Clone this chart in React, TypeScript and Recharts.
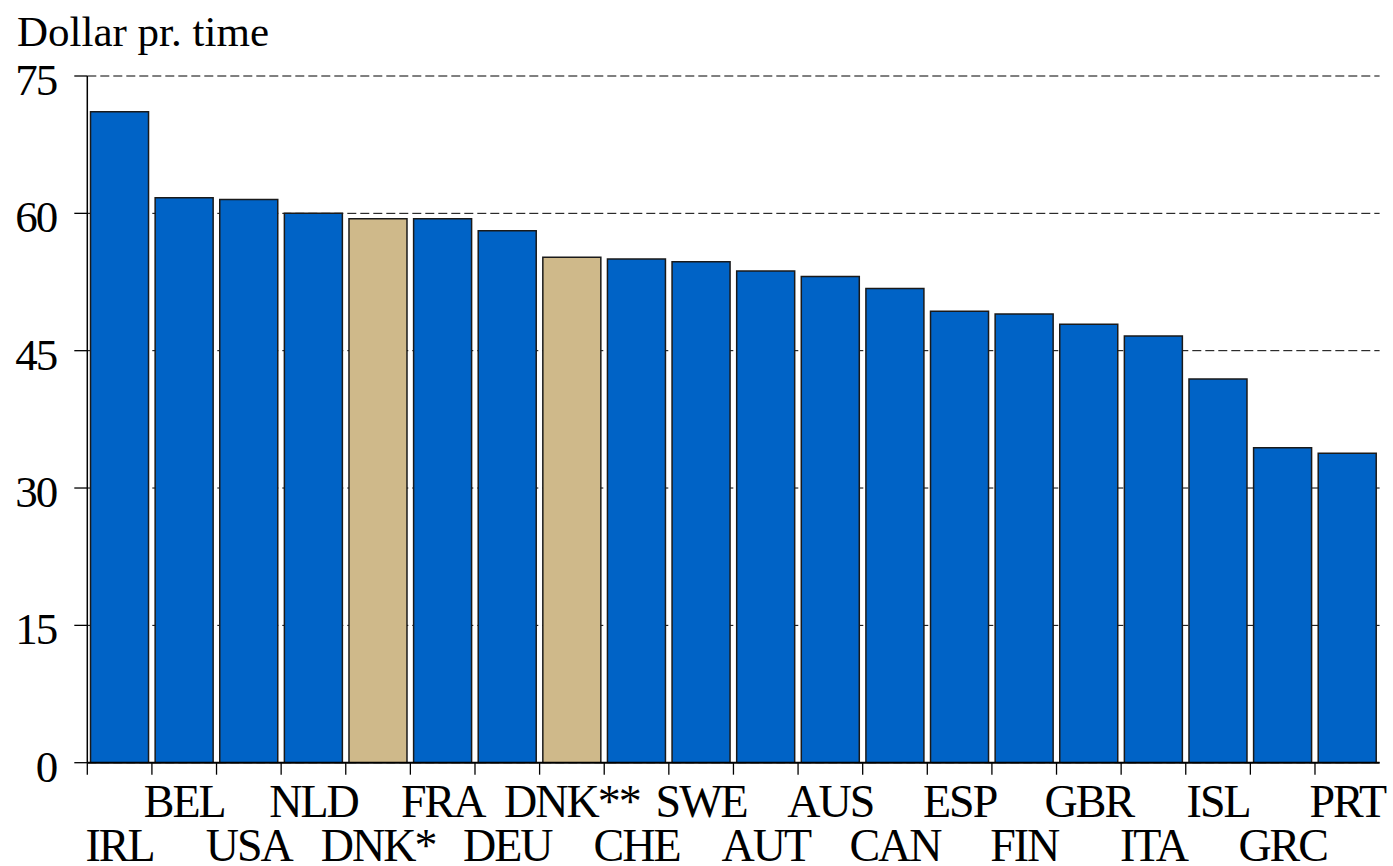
// import libraries
import React from 'react';
import { BarChart, Bar, XAxis, YAxis, CartesianGrid, Cell } from 'recharts';

const countries = [
  'IRL', 'BEL', 'USA', 'NLD', 'DNK*', 'FRA', 'DEU', 'DNK**', 'CHE', 'SWE',
  'AUT', 'AUS', 'CAN', 'ESP', 'FIN', 'GBR', 'ITA', 'ISL', 'GRC', 'PRT',
];
const dollarsPerHour = [
  71.1, 61.7, 61.5, 60.0, 59.4, 59.4, 58.1, 55.2, 55.0, 54.7,
  53.7, 53.1, 51.8, 49.3, 49.0, 47.9, 46.6, 41.9, 34.4, 33.8,
];
const highlighted = ['DNK*', 'DNK**'];
const yTicks = [0, 15, 30, 45, 60, 75];

const data = countries.map((name, i) => ({ name, value: dollarsPerHour[i] }));

const WIDTH = 1393;
const HEIGHT = 866;
const Y_AXIS_W = 87.3;
const RIGHT = 13.4;
const BAND = (WIDTH - Y_AXIS_W - RIGHT) / countries.length;
const FONT = '"Liberation Serif", "Times New Roman", serif';

const BLUE = '#0063C6';
const TAN = '#CFB98A';

// staggered labels, tick marks on the band edges
function CountryTick({ x, y, payload, index }: any) {
  const lower = index % 2 === 0;
  return (
    <g>
      <line x1={x - BAND / 2} x2={x - BAND / 2} y1={y} y2={y + 12} stroke="#000" strokeWidth={1.3} />
      <text
        x={x}
        y={y + (lower ? 98 : 54)}
        textAnchor="middle"
        fontFamily={FONT}
        fontSize={46}
        letterSpacing={-2}
        fill="#000"
      >
        {payload.value}
      </text>
    </g>
  );
}

function ValueTick({ x, y, payload }: any) {
  return (
    <text
      x={x}
      y={y}
      dy={19}
      textAnchor="end"
      fontFamily={FONT}
      fontSize={45}
      letterSpacing={-2}
      fill="#000"
    >
      {payload.value}
    </text>
  );
}

export default function App() {
  return (
    <div style={{ position: 'absolute', left: 0, top: 0, background: '#fff' }}>
      <div
        style={{
          position: 'absolute',
          left: 17,
          top: 7,
          fontFamily: FONT,
          fontSize: 43,
          lineHeight: '50px',
          color: '#000',
          whiteSpace: 'nowrap',
        }}
      >
        Dollar pr. time
      </div>
      <BarChart
        width={WIDTH}
        height={HEIGHT}
        data={data}
        margin={{ top: 76, right: RIGHT, bottom: 0, left: 0 }}
        barCategoryGap="5%"
      >
        <CartesianGrid vertical={false} stroke="#000" strokeDasharray="9 4" />
        <XAxis
          dataKey="name"
          height={103.3}
          interval={0}
          tickLine={false}
          tickSize={0}
          tickMargin={0}
          axisLine={{ stroke: '#000', strokeWidth: 2 }}
          tick={<CountryTick />}
        />
        <YAxis
          width={Y_AXIS_W}
          domain={[0, 75]}
          ticks={yTicks}
          allowDataOverflow
          tickSize={13}
          tickMargin={18}
          axisLine={{ stroke: '#000', strokeWidth: 1.5 }}
          tickLine={{ stroke: '#000', strokeWidth: 1.3 }}
          tick={<ValueTick />}
        />
        <Bar dataKey="value" stroke="#1a1a1a" strokeWidth={1.5} isAnimationActive={false}>
          {data.map((d) => (
            <Cell key={d.name} fill={highlighted.includes(d.name) ? TAN : BLUE} />
          ))}
        </Bar>
      </BarChart>
    </div>
  );
}
